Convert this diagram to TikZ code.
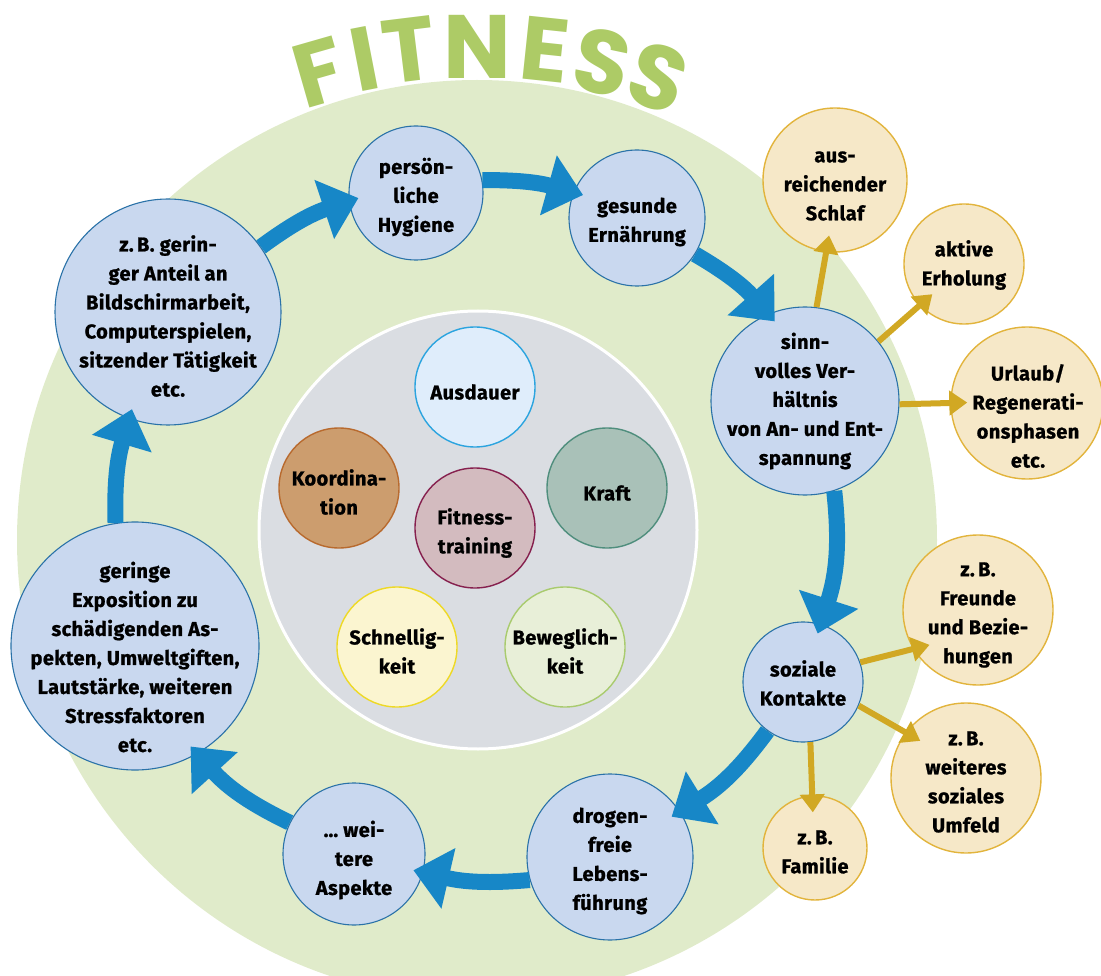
\documentclass[tikz,border=0pt]{standalone}
\usepackage{fontspec}
\setmainfont{Fira Sans}[BoldFeatures={FakeBold=1.0, LetterSpace=2}]
\newfontfamily\titlefont{Poppins}
\usetikzlibrary{arrows.meta}

\definecolor{ringgreen}{HTML}{E0EBCA}
\definecolor{titlegreen}{HTML}{ADCB66}
\definecolor{corefill}{HTML}{DADDE2}
\definecolor{bluefill}{HTML}{C9D8EF}
\definecolor{bluedraw}{HTML}{2A72A8}
\definecolor{arrowblue}{HTML}{1787C7}
\definecolor{goldfill}{HTML}{F6E8C8}
\definecolor{golddraw}{HTML}{E2B43C}
\definecolor{goldarrow}{HTML}{D1A823}
\definecolor{ausfill}{HTML}{DFEDFB}
\definecolor{ausdraw}{HTML}{2BA4DF}
\definecolor{koofill}{HTML}{CC9D6E}
\definecolor{koodraw}{HTML}{B86A2E}
\definecolor{krafill}{HTML}{A9C1B8}
\definecolor{kradraw}{HTML}{4F8E7D}
\definecolor{fitfill}{HTML}{D3BBBF}
\definecolor{fitdraw}{HTML}{86204E}
\definecolor{schfill}{HTML}{FBF5D0}
\definecolor{schdraw}{HTML}{EED925}
\definecolor{bewfill}{HTML}{E8EFD8}
\definecolor{bewdraw}{HTML}{A9CB6E}

\tikzset{
  disc/.style={circle, inner sep=0pt, minimum size=#1},
  bluecirc/.style={disc=#1, fill=bluefill, draw=bluedraw, line width=1.1pt},
  goldcirc/.style={disc=#1, fill=goldfill, draw=golddraw, line width=1.4pt},
  corecirc/.style 2 args={disc=120pt, fill=#1, draw=#2, line width=1.4pt},
  txt/.style={font=\bfseries\fontsize{20}{29}\selectfont, align=center, inner sep=0pt},
  ttl/.style={font=\titlefont\bfseries\fontsize{90}{90}\selectfont, text=titlegreen, inner sep=0pt},
  cyclearrow/.style={draw=arrowblue, line width=16pt,
    -{Triangle[length=36pt,width=60pt]}, shorten >=-10pt},
  branch/.style={draw=goldarrow, line width=6pt,
    -{Triangle[length=18pt,width=24pt]}, shorten >=-17pt},
}

\begin{document}
\begin{tikzpicture}[x=1pt,y=-1pt]
\useasboundingbox (0,0) rectangle (1101,976);
\begin{scope}
  \clip (0,0) rectangle (1101,976);
  % green ring and grey core
  \fill[ringgreen] (477,540) circle (460pt);
  \draw[fill=corefill, draw=white, line width=3pt] (478,530) circle (219pt);

  % arched title
  \node[ttl, rotate=16]  (l1) at (319,72) {F};
  \node[ttl, rotate=11]  (l2) at (365,59) {I};
  \node[ttl, rotate=7]   (l3) at (409,50) {T};
  \node[ttl, rotate=0]   (l4) at (477,47) {N};
  \node[ttl, rotate=-6]  (l5) at (545,50) {E};
  \node[ttl, rotate=-12] (l6) at (602,62) {S};
  \node[ttl, rotate=-19] (l7) at (658,78) {S};

  % cycle of blue circles
  \node[bluecirc=226pt] (zb)   at (168,312) {};
  \node[bluecirc=134pt] (hyg)  at (416,193) {};
  \node[bluecirc=136pt] (ern)  at (637,218) {};
  \node[bluecirc=188pt] (verh) at (805,401) {};
  \node[bluecirc=120pt] (soz)  at (803,682) {};
  \node[bluecirc=166pt] (dro)  at (610,857) {};
  \node[bluecirc=142pt] (wei)  at (354,854) {};
  \node[bluecirc=248pt] (ger)  at (135,646) {};

  % gold side circles
  \node[goldcirc=144pt] (schl) at (835,180) {};
  \node[goldcirc=120pt] (erh)  at (964,264) {};
  \node[goldcirc=152pt] (url)  at (1027,403) {};
  \node[goldcirc=150pt] (fre)  at (978,610) {};
  \node[goldcirc=150pt] (wsu)  at (966,778) {};
  \node[goldcirc=104pt] (fam)  at (815,848) {};

  % core components
  \node[corecirc={ausfill}{ausdraw}] (aus) at (475,387) {};
  \node[corecirc={koofill}{koodraw}] (koo) at (339,488) {};
  \node[corecirc={krafill}{kradraw}] (kra) at (607,488) {};
  \node[corecirc={fitfill}{fitdraw}] (fit) at (475,528) {};
  \node[corecirc={schfill}{schdraw}] (sch) at (397,647) {};
  \node[corecirc={bewfill}{bewdraw}] (bew) at (565,647) {};

  % labels
  \node[txt] (zb-t)   at (168,316) {z.\,B. gerin-\\ger Anteil an\\Bildschirmarbeit,\\Computerspielen,\\sitzender Tätigkeit\\etc.};
  \node[txt] (hyg-t)  at (416,197) {persön-\\liche\\Hygiene};
  \node[txt] (ern-t)  at (637,222) {gesunde\\Ernährung};
  \node[txt] (verh-t) at (805,401) {sinn-\\volles Ver-\\hältnis\\von An- und Ent-\\spannung};
  \node[txt] (soz-t)  at (803,683) {soziale\\Kontakte};
  \node[txt] (dro-t)  at (610,861) {drogen-\\freie\\Lebens-\\führung};
  \node[txt] (wei-t)  at (354,860) {… wei-\\tere\\Aspekte};
  \node[txt] (ger-t)  at (135,657) {geringe\\Exposition zu\\schädigenden As-\\pekten, Umweltgiften,\\Lautstärke, weiteren\\Stressfaktoren\\etc.};

  \node[txt] (schl-t) at (835,186) {aus-\\reichender\\Schlaf};
  \node[txt] (erh-t)  at (964,265) {aktive\\Erholung};
  \node[txt] (url-t)  at (1028,416) {Urlaub/\\Regenerati-\\onsphasen\\etc.};
  \node[txt] (fre-t)  at (978,615) {z.\,B.\\Freunde\\und Bezie-\\hungen};
  \node[txt] (wsu-t)  at (966,782) {z.\,B.\\weiteres\\soziales\\Umfeld};
  \node[txt] (fam-t)  at (815,852) {z.\,B.\\Familie};

  \node[txt] (aus-t) at (475,392) {Ausdauer};
  \node[txt] (koo-t) at (339,492) {Koordina-\\tion};
  \node[txt] (kra-t) at (607,493) {Kraft};
  \node[txt] (fit-t) at (475,533) {Fitness-\\training};
  \node[txt] (sch-t) at (397,651) {Schnellig-\\keit};
  \node[txt] (bew-t) at (565,651) {Beweglich-\\keit};

  % cycle arrows
  \draw[cyclearrow] (zb.35)   to[bend left=9]  (hyg.187);
  \draw[cyclearrow] (hyg.11)  to[bend left=8]  (ern.158);
  \draw[cyclearrow] (ern.-32) to[bend left=9]  (verh.113);
  \draw[cyclearrow] (verh.-72) to[bend left=12] (soz.73);
  \draw[cyclearrow] (soz.234) to[bend left=11] (dro.33);
  \draw[cyclearrow] (dro.196) to[bend left=9]  (wei.-15);
  \draw[cyclearrow] (wei.154) to[bend left=11] (ger.-60);
  \draw[cyclearrow] (ger.99)  to[bend left=9]  (zb.250);

  % branch arrows
  \draw[branch] (verh.83)  -- (schl.263);
  \draw[branch] (verh.39)  -- (erh.223);
  \draw[branch] (verh.-2)  -- (url.180);
  \draw[branch] (soz.19)   -- (fre.211);
  \draw[branch] (soz.-23)  -- (wsu.143);
  \draw[branch] (soz.277)  -- (fam.93);
\end{scope}
\end{tikzpicture}
\end{document}
